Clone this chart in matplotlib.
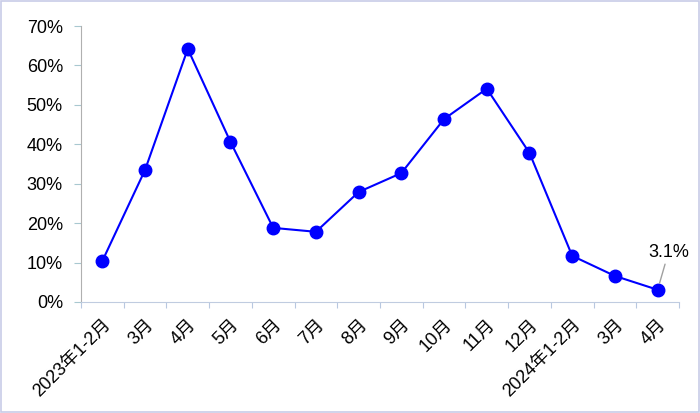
import matplotlib
matplotlib.use("Agg")
import matplotlib.pyplot as plt
from matplotlib.patches import Rectangle

plt.rcParams['font.family'] = ['Liberation Sans', 'Noto Sans CJK SC', 'DejaVu Sans']

categories = ["2023年1-2月", "3月", "4月", "5月", "6月", "7月", "8月", "9月",
              "10月", "11月", "12月", "2024年1-2月", "3月", "4月"]
values = [10.4, 33.5, 64.2, 40.6, 18.8, 17.8, 27.9, 32.7, 46.4, 54.1, 37.8, 11.7, 6.6, 3.1]
yticks = [0, 10, 20, 30, 40, 50, 60, 70]

fig = plt.figure(figsize=(7, 4.13), dpi=100)
fig.patch.set_facecolor('white')
fig.patches.append(Rectangle((0.002, 0.002), 0.996, 0.995, transform=fig.transFigure,
                             fill=False, edgecolor='#c8cce8', linewidth=1.2))
ax = fig.add_axes([0.1157, 0.2688, 0.8543, 0.6682])
x = [i + 0.5 for i in range(len(values))]
ax.plot(x, values, color='#0000ff', linewidth=1.5, marker='o', markersize=9,
        markerfacecolor='#0000ff', markeredgecolor='#0000ff')
ax.set_xlim(0, len(values))
ax.set_ylim(0, 70)
ax.set_yticks(yticks)
ax.set_yticklabels([f"{v}%" for v in yticks], fontsize=13)
ax.set_xticks(range(len(values) + 1))
ax.set_xticklabels([])
ax.set_xticks(x, minor=True)
ax.set_xticklabels(categories, minor=True, rotation=45, ha='right', va='top',
                   rotation_mode='anchor', fontsize=13)
ax.tick_params(axis='x', which='minor', length=0, pad=10)
ax.tick_params(axis='x', which='major', length=4, color='#b8c8e0', direction='out')
ax.tick_params(axis='y', length=5, color='#a8c8d0', pad=8)
for s in ['top', 'right']:
    ax.spines[s].set_visible(False)
ax.spines['left'].set_color('#b0b0b0')
ax.spines['bottom'].set_color('#c0cce0')
ax.spines['bottom'].set_linestyle((0, (2, 1)))

ax.annotate("3.1%", xy=(x[-1], values[-1]), xytext=(x[-1] + 0.25, 10.3),
            fontsize=13, ha='center', va='bottom',
            arrowprops=dict(arrowstyle='-', color='#a0a0a0', lw=1, shrinkA=0, shrinkB=5))

fig.savefig("out.png", dpi=100)
